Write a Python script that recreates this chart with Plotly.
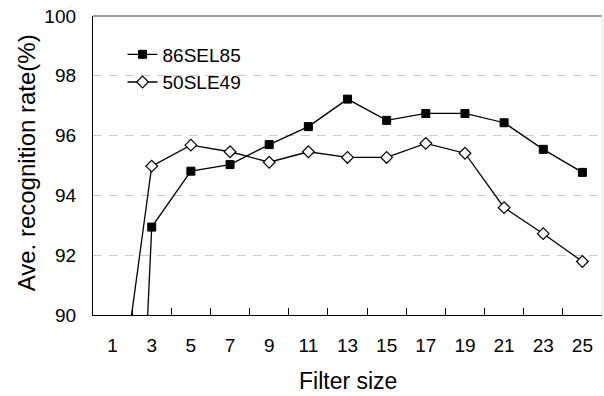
import plotly.graph_objects as go

filter_sizes = ["1", "3", "5", "7", "9", "11", "13", "15", "17", "19", "21", "23", "25"]
sel85 = [64.5, 92.94, 94.81, 95.03, 95.70, 96.30, 97.22, 96.51, 96.74, 96.74, 96.43, 95.54, 94.77]
sle49 = [85.3, 94.98, 95.68, 95.46, 95.11, 95.46, 95.27, 95.27, 95.74, 95.41, 93.59, 92.72, 91.79]
series_names = ["86SEL85", "50SLE49"]
y_ticks = [90, 92, 94, 96, 98, 100]

FONT = "Liberation Sans, Arial, sans-serif"

fig = go.Figure()
fig.add_trace(go.Scatter(
    x=filter_sizes, y=sel85, name=series_names[0], mode="lines+markers",
    line=dict(color="black", width=1.3),
    marker=dict(symbol="square", size=8, color="black", line=dict(color="black", width=1)),
    cliponaxis=True,
))
fig.add_trace(go.Scatter(
    x=filter_sizes, y=sle49, name=series_names[1], mode="lines+markers",
    line=dict(color="black", width=1.3),
    marker=dict(symbol="diamond", size=9, color="white", line=dict(color="black", width=1.2)),
    cliponaxis=True,
))

fig.update_layout(
    width=604, height=396,
    margin=dict(l=93, r=2, t=16, b=81),
    paper_bgcolor="white", plot_bgcolor="white",
    font=dict(family=FONT, size=19, color="black"),
    showlegend=True,
    legend=dict(
        x=0.058, y=0.935, xanchor="left", yanchor="top",
        bgcolor="rgba(0,0,0,0)", borderwidth=0,
        font=dict(family=FONT, size=19, color="black"),
        tracegroupgap=0, itemwidth=30,
    ),
    shapes=[
        dict(type="line", xref="paper", yref="paper", x0=0, x1=1, y0=1, y1=1,
             line=dict(color="#808080", width=1.3), layer="below"),
        dict(type="line", xref="paper", yref="paper", x0=1, x1=1, y0=0, y1=1,
             line=dict(color="#dddddd", width=1), layer="below"),
    ],
    annotations=[
        dict(text="Filter size", xref="paper", yref="paper", x=0.5, y=-0.222,
             xanchor="center", yanchor="middle", showarrow=False,
             font=dict(family=FONT, size=23, color="black")),
        dict(text="Ave. recognition rate(%)", xref="paper", yref="paper", x=-0.13, y=0.51,
             xanchor="center", yanchor="middle", showarrow=False, textangle=-90,
             font=dict(family=FONT, size=24, color="black")),
    ],
)

fig.update_xaxes(
    type="category", range=[-0.5, len(filter_sizes) - 0.5],
    tickson="boundaries", ticks="inside", ticklen=7, tickwidth=1, tickcolor="black",
    showline=True, linecolor="black", linewidth=1.3,
    showgrid=False, zeroline=False,
    ticklabelstandoff=13,
    tickfont=dict(family=FONT, size=19, color="black"),
)
fig.update_yaxes(
    range=[90, 100], tickvals=y_ticks, ticktext=[str(v) for v in y_ticks],
    ticks="", showline=True, linecolor="black", linewidth=1.3,
    showgrid=True, gridcolor="#c8c8c8", gridwidth=1.3, griddash="9px,7px",
    zeroline=False,
    ticklabelstandoff=12,
    tickfont=dict(family=FONT, size=19, color="black"),
)

fig.write_html("out.html")
